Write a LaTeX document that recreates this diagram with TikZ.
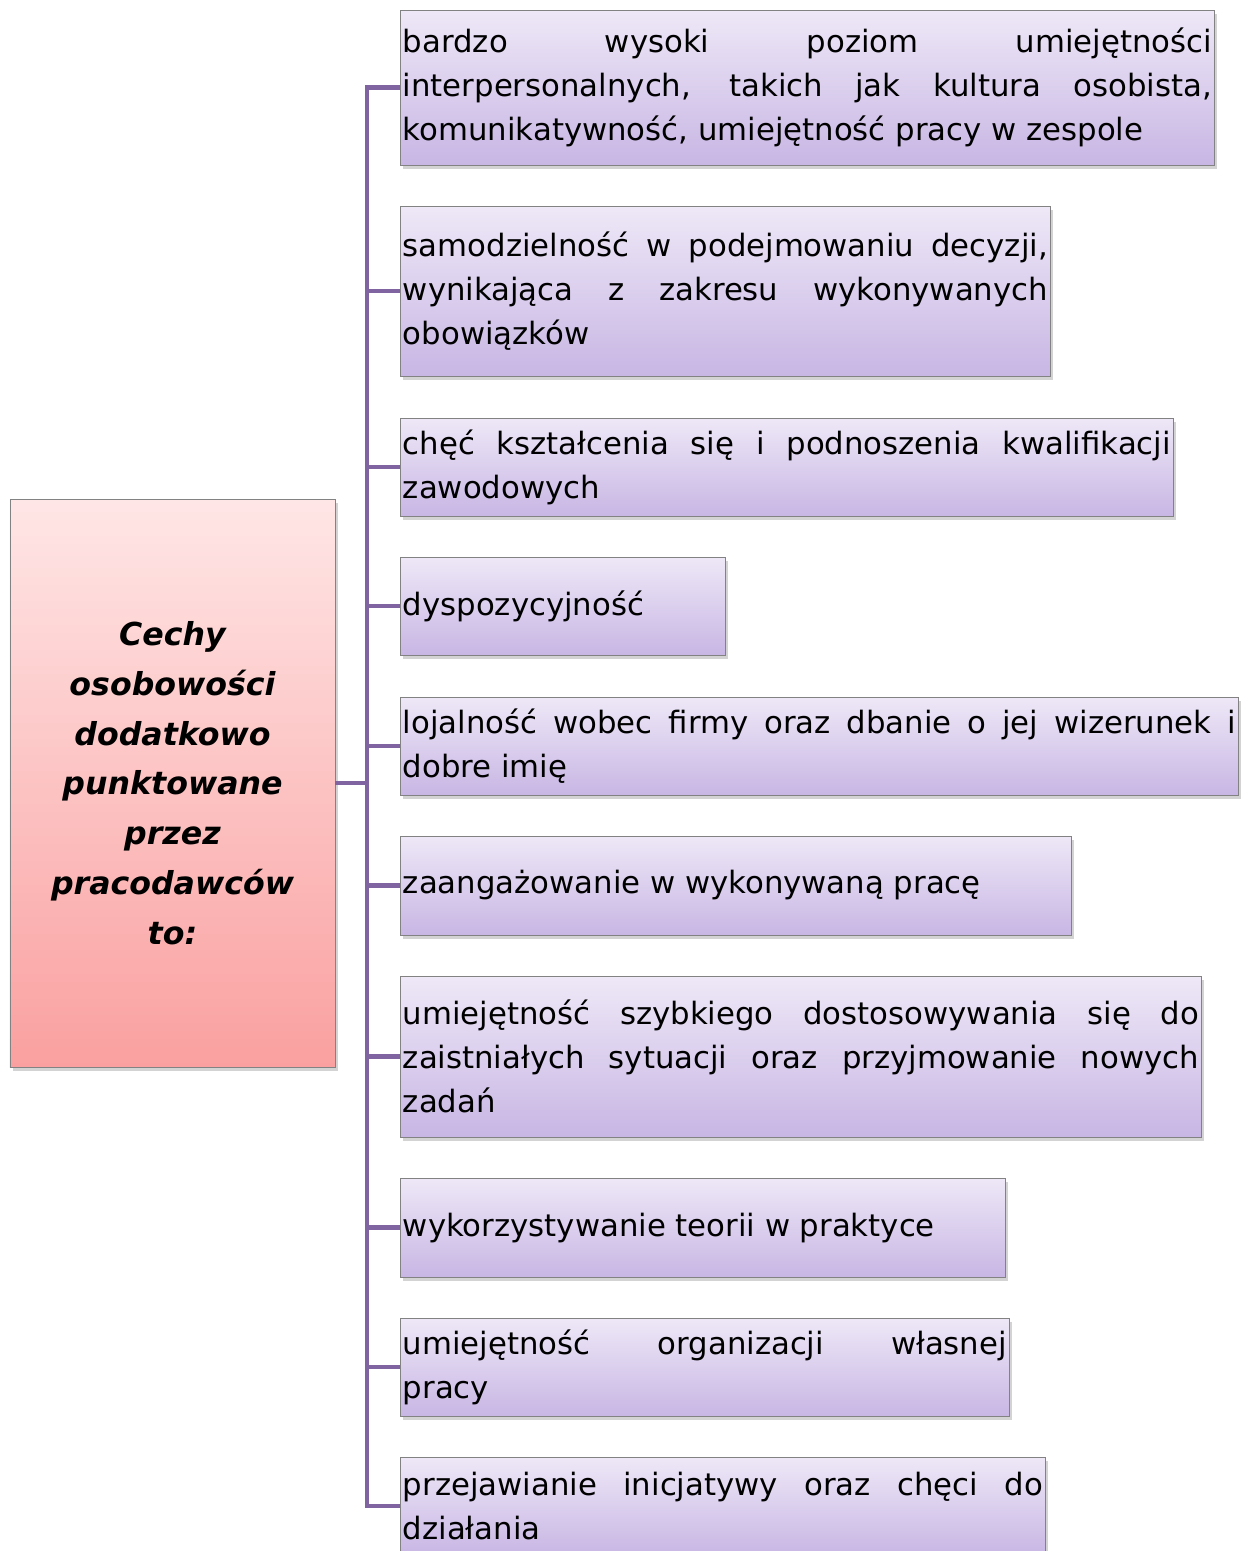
\documentclass[tikz,border=0pt]{standalone}
\usepackage{fontspec}
\setmainfont{DejaVu Sans}
\usetikzlibrary{shadows}

\definecolor{lavtop}{RGB}{238,232,247}
\definecolor{lavbot}{RGB}{200,182,228}
\definecolor{pinktop}{RGB}{255,230,230}
\definecolor{pinkbot}{RGB}{250,160,160}
\definecolor{branchcol}{RGB}{128,100,162}
\definecolor{edgecol}{RGB}{130,130,130}

\tolerance=9999
\hyphenpenalty=10000

\begin{document}
\begin{tikzpicture}[x=1cm,y=-1cm,
	trait/.style 2 args={draw=edgecol,top color=lavtop,bottom color=lavbot,
		drop shadow={shadow xshift=0.06cm,shadow yshift=-0.07cm,opacity=0.35},
		anchor=west,inner xsep=0.05cm,inner ysep=0pt,
		text width=#1cm-0.1cm,minimum height=#2cm,align=justify,
		font=\fontsize{17.5}{25}\selectfont},
	lead/.style={draw=edgecol,top color=pinktop,bottom color=pinkbot,
		drop shadow={shadow xshift=0.06cm,shadow yshift=-0.07cm,opacity=0.35},
		minimum width=6.5cm,minimum height=11.36cm,align=center,
		font=\fontsize{18}{28.3}\selectfont\bfseries\itshape},
	branch/.style={draw=branchcol,line width=2.3pt}]
\useasboundingbox (0,0) rectangle (24.94,31.02);

\node[lead] (cechy) at (3.45,15.66) {Cechy\\osobowości\\dodatkowo\\punktowane\\przez\\pracodawców\\to:};

\node[trait={16.28}{3.10}] (t1) at (8,1.75) {bardzo wysoki poziom umiejętności\linebreak interpersonalnych, takich jak kultura osobista,\linebreak komunikatywność, umiejętność pracy w zespole};
\node[trait={13.00}{3.40}] (t2) at (8,5.82) {samodzielność w podejmowaniu decyzji,\linebreak wynikająca z zakresu wykonywanych\linebreak obowiązków};
\node[trait={15.46}{1.96}] (t3) at (8,9.34) {chęć kształcenia się i podnoszenia kwalifikacji\linebreak zawodowych};
\node[trait={6.50}{1.96}] (t4) at (8,12.12) {dyspozycyjność};
\node[trait={16.76}{1.96}] (t5) at (8,14.92) {lojalność wobec firmy oraz dbanie o jej wizerunek i\linebreak dobre imię};
\node[trait={13.42}{1.98}] (t6) at (8,17.71) {zaangażowanie w wykonywaną pracę};
\node[trait={16.02}{3.22}] (t7) at (8,21.13) {umiejętność szybkiego dostosowywania się do\linebreak zaistniałych sytuacji oraz przyjmowanie nowych\linebreak zadań};
\node[trait={12.10}{1.98}] (t8) at (8,24.55) {wykorzystywanie teorii w praktyce};
\node[trait={12.18}{1.96}] (t9) at (8,27.34) {umiejętność organizacji własnej\linebreak pracy};
\node[trait={12.90}{1.96}] (t10) at (8,30.12) {przejawianie inicjatywy oraz chęci do\linebreak działania};

\coordinate (hub) at (7.34,15.66);
\draw[branch] (cechy.east) -- (hub);
\foreach \i in {1,...,10}
	\draw[branch] (hub) |- (t\i.west);

\end{tikzpicture}
\end{document}
